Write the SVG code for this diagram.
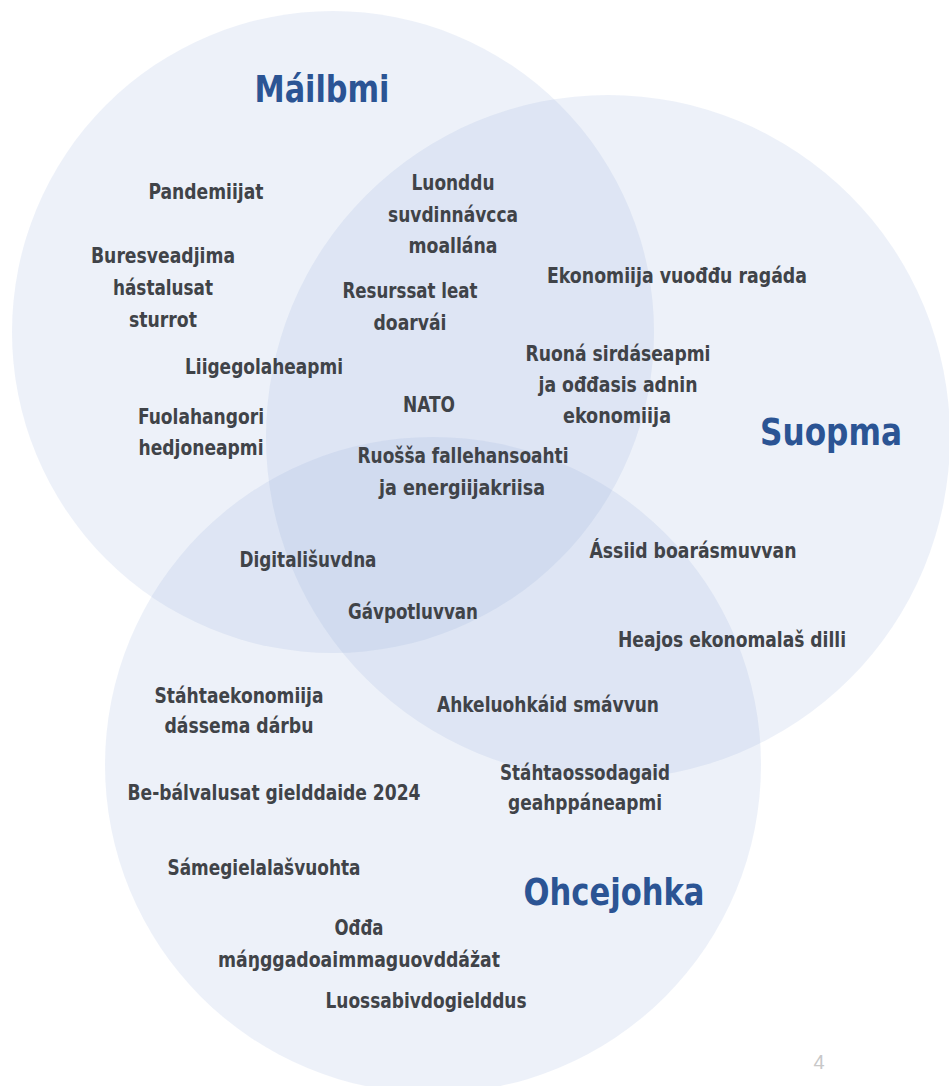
<svg xmlns="http://www.w3.org/2000/svg" width="949" height="1086" viewBox="0 0 949 1086">
<style>
.c{fill:#8fa9dc;fill-opacity:0.16;stroke:none}
.t{font-family:"DejaVu Sans Condensed","DejaVu Sans",sans-serif;font-stretch:condensed;font-weight:bold;font-size:21.5px;fill:#404348;text-anchor:middle}
.h{font-family:"DejaVu Sans Condensed","DejaVu Sans",sans-serif;font-stretch:condensed;font-weight:bold;font-size:38px;fill:#2b5494;text-anchor:middle}
.pg{font-family:"Liberation Sans",sans-serif;font-size:20px;fill:#c8c8c8;text-anchor:middle}
</style>
<rect width="949" height="1086" fill="#ffffff"/>
<g id="circle-mailbmi"><circle class="c" cx="333" cy="332" r="321"/></g>
<g id="circle-suopma"><circle class="c" cx="608" cy="437" r="342"/></g>
<g id="circle-ohcejohka"><circle class="c" cx="433" cy="765" r="328"/></g>

<g id="title-mailbmi"><text class="h" x="322" y="102" textLength="135" lengthAdjust="spacingAndGlyphs">Máilbmi</text></g>
<g id="title-suopma"><text class="h" x="831" y="445" textLength="142" lengthAdjust="spacingAndGlyphs">Suopma</text></g>
<g id="title-ohcejohka"><text class="h" x="614" y="905" textLength="181" lengthAdjust="spacingAndGlyphs">Ohcejohka</text></g>

<g id="n-pandemiijat"><text class="t" x="206" y="199" textLength="115" lengthAdjust="spacingAndGlyphs">Pandemiijat</text></g>
<g id="n-buresveadjima">
<text class="t" x="163" y="263" textLength="144" lengthAdjust="spacingAndGlyphs">Buresveadjima</text>
<text class="t" x="163" y="295" textLength="100" lengthAdjust="spacingAndGlyphs">hástalusat</text>
<text class="t" x="163" y="327" textLength="68" lengthAdjust="spacingAndGlyphs">sturrot</text>
</g>
<g id="n-luonddu">
<text class="t" x="453" y="190" textLength="83" lengthAdjust="spacingAndGlyphs">Luonddu</text>
<text class="t" x="453" y="222" textLength="130" lengthAdjust="spacingAndGlyphs">suvdinnávcca</text>
<text class="t" x="453" y="253" textLength="89" lengthAdjust="spacingAndGlyphs">moallána</text>
</g>
<g id="n-resurssat">
<text class="t" x="410" y="298" textLength="135" lengthAdjust="spacingAndGlyphs">Resurssat leat</text>
<text class="t" x="410" y="330" textLength="73" lengthAdjust="spacingAndGlyphs">doarvái</text>
</g>
<g id="n-ekonomiija-vuodu"><text class="t" x="677" y="283" textLength="260" lengthAdjust="spacingAndGlyphs">Ekonomiija vuođđu ragáda</text></g>
<g id="n-ruona">
<text class="t" x="618" y="361" textLength="185" lengthAdjust="spacingAndGlyphs">Ruoná sirdáseapmi</text>
<text class="t" x="618" y="392" textLength="159" lengthAdjust="spacingAndGlyphs">ja ođđasis adnin</text>
<text class="t" x="617" y="423" textLength="108" lengthAdjust="spacingAndGlyphs">ekonomiija</text>
</g>
<g id="n-liigegolaheapmi"><text class="t" x="264" y="374" textLength="158" lengthAdjust="spacingAndGlyphs">Liigegolaheapmi</text></g>
<g id="n-nato"><text class="t" x="429" y="412" textLength="52" lengthAdjust="spacingAndGlyphs">NATO</text></g>
<g id="n-fuolahangori">
<text class="t" x="201" y="424" textLength="126" lengthAdjust="spacingAndGlyphs">Fuolahangori</text>
<text class="t" x="201" y="455" textLength="125" lengthAdjust="spacingAndGlyphs">hedjoneapmi</text>
</g>
<g id="n-ruossa">
<text class="t" x="463" y="463" textLength="211" lengthAdjust="spacingAndGlyphs">Ruošša fallehansoahti</text>
<text class="t" x="462" y="495" textLength="166" lengthAdjust="spacingAndGlyphs">ja energiijakriisa</text>
</g>
<g id="n-digitalisuvdna"><text class="t" x="308" y="567" textLength="137" lengthAdjust="spacingAndGlyphs">Digitališuvdna</text></g>
<g id="n-gavpotluvvan"><text class="t" x="413" y="619" textLength="130" lengthAdjust="spacingAndGlyphs">Gávpotluvvan</text></g>
<g id="n-assiid"><text class="t" x="693" y="558" textLength="207" lengthAdjust="spacingAndGlyphs">Ássiid boarásmuvvan</text></g>
<g id="n-heajos"><text class="t" x="732" y="647" textLength="228" lengthAdjust="spacingAndGlyphs">Heajos ekonomalaš dilli</text></g>
<g id="n-stahtaekonomiija">
<text class="t" x="239" y="703" textLength="169" lengthAdjust="spacingAndGlyphs">Stáhtaekonomiija</text>
<text class="t" x="239" y="733" textLength="149" lengthAdjust="spacingAndGlyphs">dássema dárbu</text>
</g>
<g id="n-ahkeluohkaid"><text class="t" x="548" y="712" textLength="222" lengthAdjust="spacingAndGlyphs">Ahkeluohkáid smávvun</text></g>
<g id="n-stahtaossodagaid">
<text class="t" x="585" y="780" textLength="170" lengthAdjust="spacingAndGlyphs">Stáhtaossodagaid</text>
<text class="t" x="585" y="810" textLength="154" lengthAdjust="spacingAndGlyphs">geahppáneapmi</text>
</g>
<g id="n-bebalvalusat"><text class="t" x="274" y="800" textLength="293" lengthAdjust="spacingAndGlyphs">Be-bálvalusat gielddaide 2024</text></g>
<g id="n-samegielalasvuohta"><text class="t" x="264" y="875" textLength="193" lengthAdjust="spacingAndGlyphs">Sámegielalašvuohta</text></g>
<g id="n-odda">
<text class="t" x="359" y="935" textLength="49" lengthAdjust="spacingAndGlyphs">Ođđa</text>
<text class="t" x="359" y="967" textLength="282" lengthAdjust="spacingAndGlyphs">máŋggadoaimmaguovddážat</text>
</g>
<g id="n-luossabivdogielddus"><text class="t" x="426" y="1008" textLength="201" lengthAdjust="spacingAndGlyphs">Luossabivdogielddus</text></g>
<g id="page-number"><text class="pg" x="819" y="1069">4</text></g>
</svg>
